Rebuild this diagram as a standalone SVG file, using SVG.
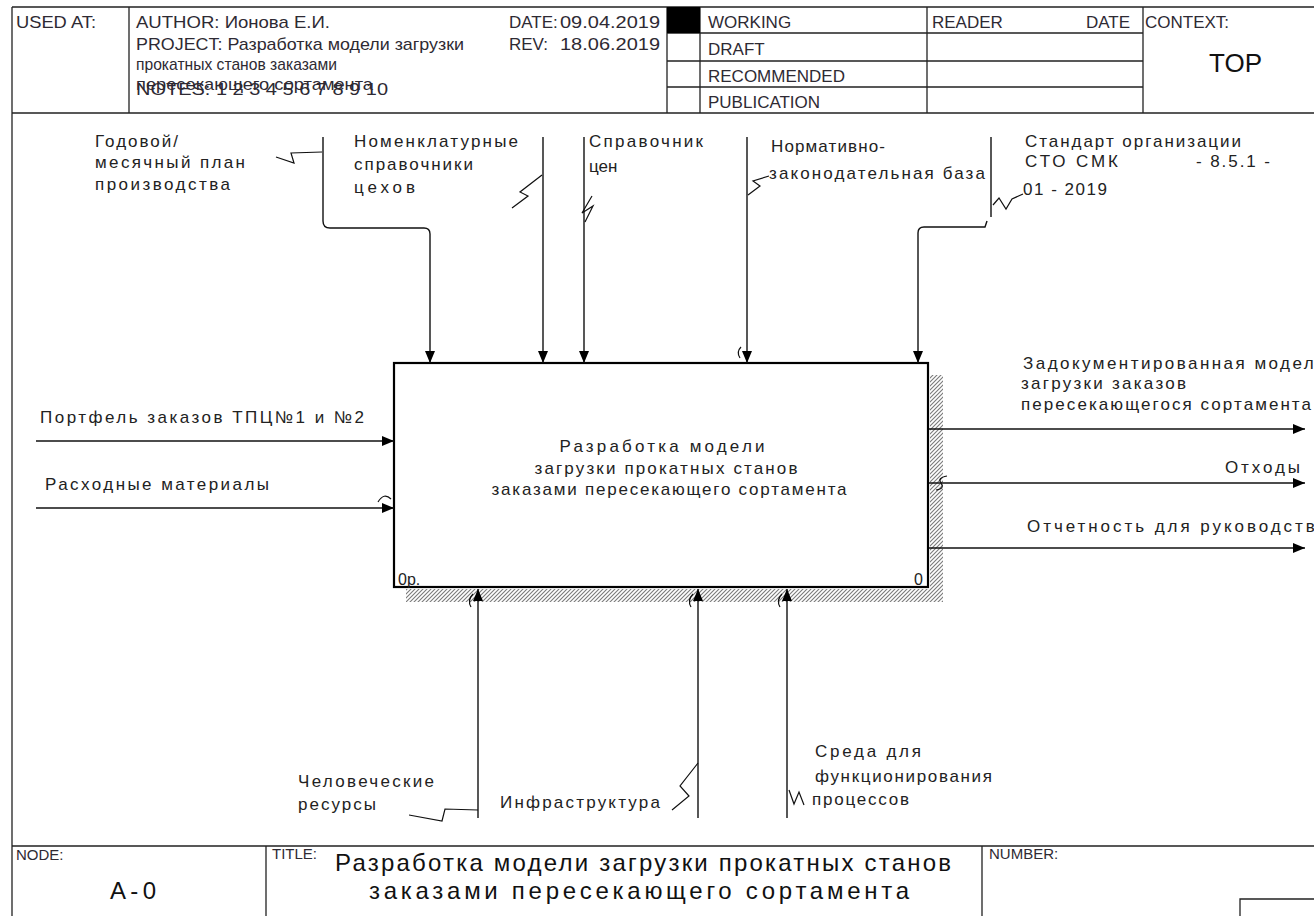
<svg xmlns="http://www.w3.org/2000/svg" width="1314" height="916" viewBox="0 0 1314 916">
<style>
.fr{fill:none;stroke:#222;stroke-width:1.3}
.hd{font-family:"Liberation Sans",Arial,sans-serif;font-size:17px;fill:#2e2a33}
.sm{font-family:"Liberation Sans",Arial,sans-serif;font-size:15px;fill:#2e2a33}
.lb{font-family:"Liberation Sans",Arial,sans-serif;font-size:17px;fill:#222}
.big{font-family:"Liberation Sans",Arial,sans-serif;font-size:24px;fill:#111}
.ln{fill:none;stroke:#111;stroke-width:1.4}
.sq{fill:none;stroke:#111;stroke-width:1.2}
.tn{fill:none;stroke:#111;stroke-width:1.2}
</style>
<defs>
<pattern id="hatch" width="4" height="4" patternUnits="userSpaceOnUse">
<rect width="4" height="4" fill="#fff"/>
<path d="M0,4 L4,0 M-1,1 L1,-1 M3,5 L5,3" stroke="#7a7a7a" stroke-width="1.1"/>
</pattern>
<marker id="ah" markerWidth="13" markerHeight="11" refX="12" refY="5" orient="auto" markerUnits="userSpaceOnUse">
<path d="M0,0 L12,5 L0,10 z" fill="#000"/>
</marker>
</defs>
<rect width="1314" height="916" fill="#fff"/>

<g id="header">
<path class="fr" d="M12,7 H1320 M12,113 H1320 M12,7 V916 M129,7 V113 M667,7 V113 M700,7 V113 M927,7 V113 M1143,7 V113 M667,33 H1143 M667,61 H1143 M667,87 H1143"/>
<rect x="667" y="7" width="33" height="26" fill="#000"/>
<text class="hd" x="16" y="28" textLength="80" lengthAdjust="spacingAndGlyphs">USED AT:</text>
<text class="hd" x="136" y="28" textLength="194" lengthAdjust="spacingAndGlyphs">AUTHOR: Ионова Е.И.</text>
<text class="hd" x="509" y="28">DATE:</text>
<text class="hd" x="560" y="28" textLength="100" lengthAdjust="spacingAndGlyphs">09.04.2019</text>
<text class="hd" x="136" y="50" textLength="328" lengthAdjust="spacingAndGlyphs">PROJECT:  Разработка модели загрузки</text>
<text class="hd" x="509" y="50">REV:</text>
<text class="hd" x="560" y="50" textLength="100" lengthAdjust="spacingAndGlyphs">18.06.2019</text>
<text class="hd" x="136" y="70" textLength="201" lengthAdjust="spacingAndGlyphs">прокатных  станов заказами</text>
<text class="hd" x="136" y="90" textLength="237" lengthAdjust="spacingAndGlyphs">пересекающего сортамента</text>
<text class="hd" x="136" y="95" textLength="252" lengthAdjust="spacingAndGlyphs">NOTES:  1  2  3  4  5  6  7  8  9  10</text>
<text class="hd" x="708" y="28">WORKING</text>
<text class="hd" x="708" y="55">DRAFT</text>
<text class="hd" x="708" y="82">RECOMMENDED</text>
<text class="hd" x="708" y="108">PUBLICATION</text>
<text class="hd" x="932" y="28">READER</text>
<text class="hd" x="1130" y="28" text-anchor="end">DATE</text>
<text class="hd" x="1145" y="28">CONTEXT:</text>
<text class="big" x="1209" y="72" style="font-size:26px">TOP</text>
</g>

<g id="footer">
<path class="fr" d="M12,846 H1320 M266,846 V916 M982,846 V916 M1240,916 V899 H1320"/>
<text class="sm" x="16" y="860">NODE:</text>
<text class="big" x="110" y="899" textLength="46" lengthAdjust="spacing">A-0</text>
<text class="sm" x="272" y="859">TITLE:</text>
<text class="big" x="335" y="871" textLength="616" lengthAdjust="spacing">Разработка модели  загрузки прокатных станов</text>
<text class="big" x="369" y="899" textLength="540" lengthAdjust="spacing">заказами пересекающего сортамента</text>
<text class="sm" x="989" y="859">NUMBER:</text>
</g>

<g id="node-A0">
<rect x="930" y="375" width="13" height="227" fill="url(#hatch)"/>
<rect x="406" y="589" width="537" height="13" fill="url(#hatch)"/>
<rect x="394" y="363" width="534" height="224" fill="#fff" stroke="#000" stroke-width="2.2"/>
<text class="lb" x="662" y="452" text-anchor="middle" textLength="205" lengthAdjust="spacing">Разработка модели</text>
<text class="lb" x="666" y="474" text-anchor="middle" textLength="263" lengthAdjust="spacing">загрузки прокатных станов</text>
<text class="lb" x="669" y="495" text-anchor="middle" textLength="355" lengthAdjust="spacing">заказами пересекающего сортамента</text>
<text class="lb" x="398" y="585" style="font-size:16px">0р.</text>
<text class="lb" x="914" y="585" style="font-size:16px">0</text>
</g>

<g id="connectors">
<!-- inputs -->
<path class="ln" d="M36,441 H394" marker-end="url(#ah)"/>
<path class="ln" d="M36,508 H394" marker-end="url(#ah)"/>
<path class="tn" d="M378,502 Q384,492 391,499"/>
<!-- controls -->
<path class="ln" d="M323,137 V221 Q323,228 330,228 H424 Q430,228 430,234 V363" marker-end="url(#ah)"/>
<path class="ln" d="M543,137 V363" marker-end="url(#ah)"/>
<path class="ln" d="M584,137 V363" marker-end="url(#ah)"/>
<path class="ln" d="M747,137 V363" marker-end="url(#ah)"/>
<path class="tn" d="M741,347 Q736,352 740,358"/>
<path class="ln" d="M991,137 V217 M987,221 L985,227 H924 Q918,227 918,233 V363" marker-end="url(#ah)"/>
<!-- outputs -->
<path class="ln" d="M929,429 H1305" marker-end="url(#ah)"/>
<path class="ln" d="M929,483 H1305" marker-end="url(#ah)"/>
<path class="tn" d="M947,476 Q937,478 941,483 Q945,489 936,490"/>
<path class="ln" d="M929,548 H1305" marker-end="url(#ah)"/>
<!-- mechanisms -->
<path class="ln" d="M478,818 V589" marker-end="url(#ah)"/>
<path class="ln" d="M698,818 V589" marker-end="url(#ah)"/>
<path class="ln" d="M787,818 V589" marker-end="url(#ah)"/>
<path class="tn" d="M473,594 Q467,600 471,607"/>
<path class="tn" d="M693,594 Q687,600 691,607"/>
<path class="tn" d="M782,594 Q776,600 780,607"/>
<!-- squiggles -->
<path class="sq" d="M276,157 L294,163 L291,153 L322,152"/>
<path class="sq" d="M512,208 L528,196 L520,192 L542,175"/>
<path class="sq" d="M592,196 L582,213 L593,206 L585,222"/>
<path class="sq" d="M748,195 L760,186 L753,181 L769,176"/>
<path class="sq" d="M993,205 L999,198 L1006,209 L1012,199 L1023,194"/>
<path class="sq" d="M409,815 L442,821 L445,809 L478,810"/>
<path class="sq" d="M672,810 L689,796 L680,786 L698,763"/>
<path class="sq" d="M789,790 L794,804 L799,792 L804,805"/>
</g>

<g id="labels">
<text class="lb" x="40" y="423" textLength="324" lengthAdjust="spacing">Портфель заказов ТПЦ№1 и №2</text>
<text class="lb" x="45" y="490" textLength="224" lengthAdjust="spacing">Расходные материалы</text>
<text class="lb" x="95" y="147" textLength="83" lengthAdjust="spacing">Годовой/</text>
<text class="lb" x="95" y="168" textLength="150" lengthAdjust="spacing">месячный план</text>
<text class="lb" x="95" y="190" textLength="135" lengthAdjust="spacing">производства</text>
<text class="lb" x="354" y="147" textLength="164" lengthAdjust="spacing">Номенклатурные</text>
<text class="lb" x="354" y="170" textLength="119" lengthAdjust="spacing">справочники</text>
<text class="lb" x="354" y="193" textLength="61" lengthAdjust="spacing">цехов</text>
<text class="lb" x="589" y="147" textLength="114" lengthAdjust="spacing">Справочник</text>
<text class="lb" x="589" y="172">цен</text>
<text class="lb" x="771" y="152" textLength="114" lengthAdjust="spacing">Нормативно-</text>
<text class="lb" x="769" y="179" textLength="216" lengthAdjust="spacing">законодательная база</text>
<text class="lb" x="1025" y="147" textLength="216" lengthAdjust="spacing">Стандарт организации</text>
<text class="lb" x="1025" y="167" textLength="93" lengthAdjust="spacing">СТО  СМК</text>
<text class="lb" x="1196" y="167" textLength="74" lengthAdjust="spacing">- 8.5.1 -</text>
<text class="lb" x="1023" y="195" textLength="84" lengthAdjust="spacing">01 - 2019</text>
<text class="lb" x="1023" y="369" textLength="302" lengthAdjust="spacing">Задокументированная модель</text>
<text class="lb" x="1021" y="389" textLength="165" lengthAdjust="spacing">загрузки заказов</text>
<text class="lb" x="1021" y="410" textLength="290" lengthAdjust="spacing">пересекающегося сортамента</text>
<text class="lb" x="1225" y="473" textLength="75" lengthAdjust="spacing">Отходы</text>
<text class="lb" x="1027" y="532" textLength="300" lengthAdjust="spacing">Отчетность для руководства</text>
<text class="lb" x="298" y="787" textLength="136" lengthAdjust="spacing">Человеческие</text>
<text class="lb" x="298" y="810" textLength="78" lengthAdjust="spacing">ресурсы</text>
<text class="lb" x="500" y="808" textLength="160" lengthAdjust="spacing">Инфраструктура</text>
<text class="lb" x="815" y="757" textLength="106" lengthAdjust="spacing">Среда для</text>
<text class="lb" x="815" y="782" textLength="177" lengthAdjust="spacing">функционирования</text>
<text class="lb" x="812" y="805" textLength="97" lengthAdjust="spacing">процессов</text>
</g>
</svg>
